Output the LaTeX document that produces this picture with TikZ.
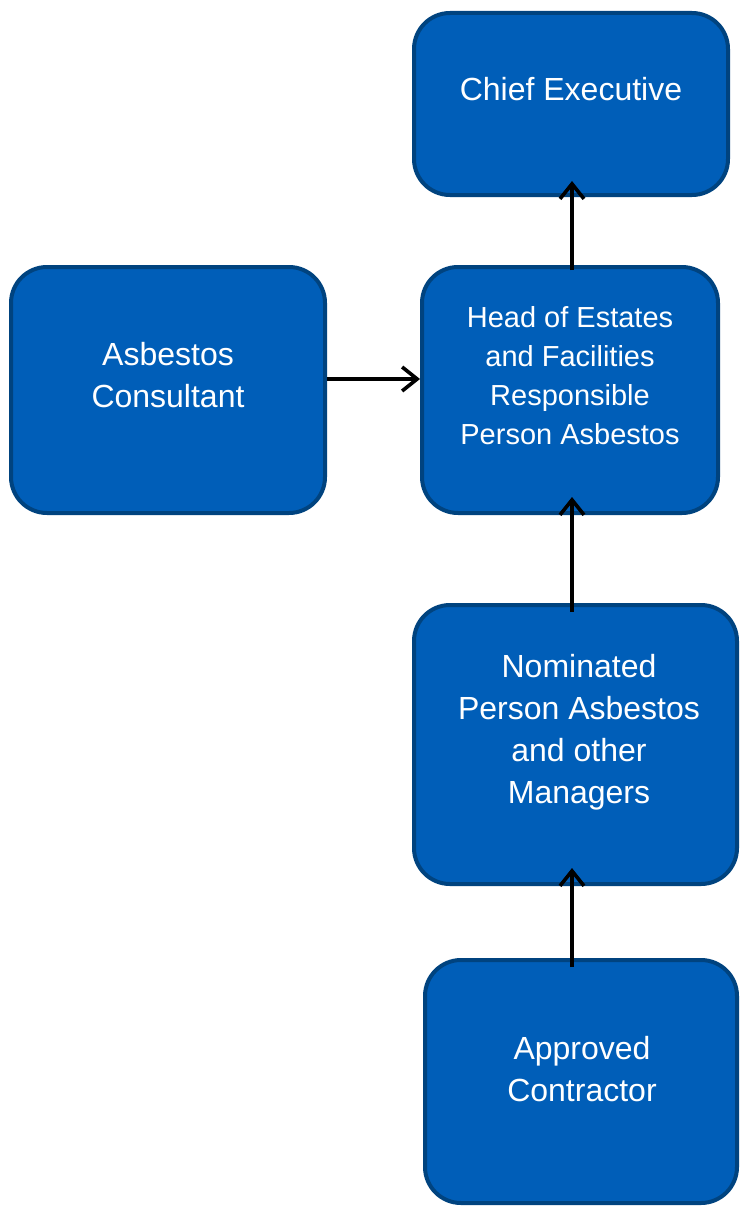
\documentclass[tikz,border=0pt]{standalone}
\usepackage{fontspec}
\setmainfont{Liberation Sans}
\usetikzlibrary{arrows.meta}
\definecolor{boxfill}{HTML}{005EB8}
\definecolor{boxline}{HTML}{00437F}
\tikzset{
  orgbox/.style={draw=boxline, fill=boxfill, line width=4pt, rounded corners=36pt, inner sep=0pt},
  boxtext/.style={text=white, align=center, inner sep=0pt, font=\fontsize{32}{42}\selectfont},
  smalltext/.style={boxtext, font=\fontsize{29}{39}\selectfont},
  link/.style={draw=black, line width=3.6pt, -{Straight Barb[length=15pt,width=24pt,line width=3.6pt]}}
}
\begin{document}
\begin{tikzpicture}[x=1pt,y=-1pt]
\useasboundingbox (0,0) rectangle (740,1207);
\node[orgbox, minimum width=314pt, minimum height=182pt] (ce) at (571,104) {};
\node[orgbox, minimum width=296pt, minimum height=246pt] (hoe) at (570,390) {};
\node[orgbox, minimum width=314pt, minimum height=246pt] (ac) at (168,390) {};
\node[orgbox, minimum width=323pt, minimum height=279pt] (nom) at (575.5,744.5) {};
\node[orgbox, minimum width=312pt, minimum height=243pt] (app) at (581,1081.5) {};

\node[boxtext] (cet) at (571,89) {Chief Executive};
\node[smalltext] (hoet) at (570,376) {Head of Estates\\and Facilities\\Responsible\\Person Asbestos};
\node[boxtext] (act) at (168,375) {Asbestos\\Consultant};
\node[boxtext] (nomt) at (579,732) {Nominated\\Person Asbestos\\and other\\Managers};
\node[boxtext] (appt) at (582,1069) {Approved\\Contractor};

\coordinate (cetip) at ([yshift=16pt]ce.south);
\draw[link] ([xshift=2pt,yshift=-5pt]hoe.north) -- ([xshift=2pt]hoe.north |- cetip);
\draw[link] ([yshift=11pt]ac.east) -- ([yshift=11pt]hoe.west);
\draw[link] ([xshift=-3.5pt,yshift=-9pt]nom.north) -- ([xshift=2pt,yshift=18pt]hoe.south);
\draw[link] ([xshift=-9pt,yshift=-9pt]app.north) -- ([xshift=-3.5pt,yshift=18pt]nom.south);
\end{tikzpicture}
\end{document}
